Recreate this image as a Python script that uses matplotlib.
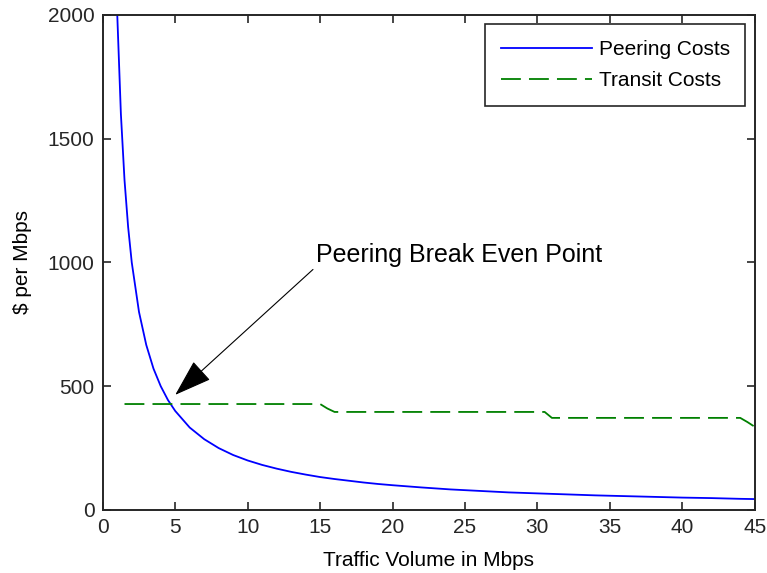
import matplotlib.pyplot as plt

plt.rcParams['font.family'] = ['Liberation Sans', 'DejaVu Sans']

# peering cost per Mbps, read at sample traffic volumes
peer_x = [1.0, 1.25, 1.5, 1.75, 2.0, 2.5, 3.0, 3.5, 4.0, 4.5, 5.0, 6.0, 7.0, 8.0, 9.0, 10.0,
          11.0, 12.0, 13.0, 14.0, 15.0, 16.0, 17.0, 18.0, 19.0, 20.0, 22.0, 24.0, 26.0, 28.0,
          30.0, 32.0, 34.0, 36.0, 38.0, 40.0, 42.0, 44.0, 45.0]
peer_y = [2000, 1600, 1333, 1143, 1000, 800, 667, 571, 500, 444, 400, 333, 286, 250, 222, 200,
          182, 167, 154, 143, 133, 125, 118, 111, 105, 100, 91, 83, 77, 71,
          67, 63, 59, 56, 53, 50, 48, 45, 44]

# transit cost per Mbps (tiered pricing)
transit_x = [1.5, 15.0, 15.5, 16.0, 30.5, 31.0, 44.0, 44.5, 45.0]
transit_y = [428, 428, 410, 396, 396, 372, 372, 355, 336]

fig = plt.figure(figsize=(7.67, 5.73), dpi=100)
ax = fig.add_axes([0.134, 0.110, 0.850, 0.864])

ax.plot(peer_x, peer_y, color='#0000ff', lw=1.3, label='Peering Costs')
ax.plot(transit_x, transit_y, color='#008000', lw=1.3, ls=(0, (11, 4.5)), label='Transit Costs')

ax.annotate('Peering Break Even Point', xy=(5.0, 465), xytext=(14.7, 1002),
            fontsize=18, ha='left', va='baseline',
            arrowprops=dict(arrowstyle='-|>,head_length=1.2,head_width=0.4',
                            mutation_scale=20, relpos=(0, 0),
                            color='black', lw=0.8, shrinkA=0, shrinkB=0))

ax.set_xlim(0, 45)
ax.set_ylim(0, 2000)
ax.set_xticks(range(0, 46, 5))
ax.set_yticks(range(0, 2001, 500))
ax.tick_params(direction='in', top=True, right=True, labelsize=15, length=6, width=1.2,
               colors='#262626', pad=6)
for s in ax.spines.values():
    s.set_linewidth(1.4)
    s.set_color('#262626')

ax.set_xlabel('Traffic Volume in Mbps', fontsize=15, labelpad=10)
ax.set_ylabel('$ per Mbps', fontsize=15, labelpad=11)

leg = ax.legend(loc='upper right', fontsize=15, fancybox=False, framealpha=1,
                edgecolor='#262626', handlelength=4.4, handletextpad=0.3,
                borderpad=0.75, labelspacing=0.6, borderaxespad=0.45)
leg.get_frame().set_linewidth(1.2)

fig.savefig('out.png', dpi=100)
